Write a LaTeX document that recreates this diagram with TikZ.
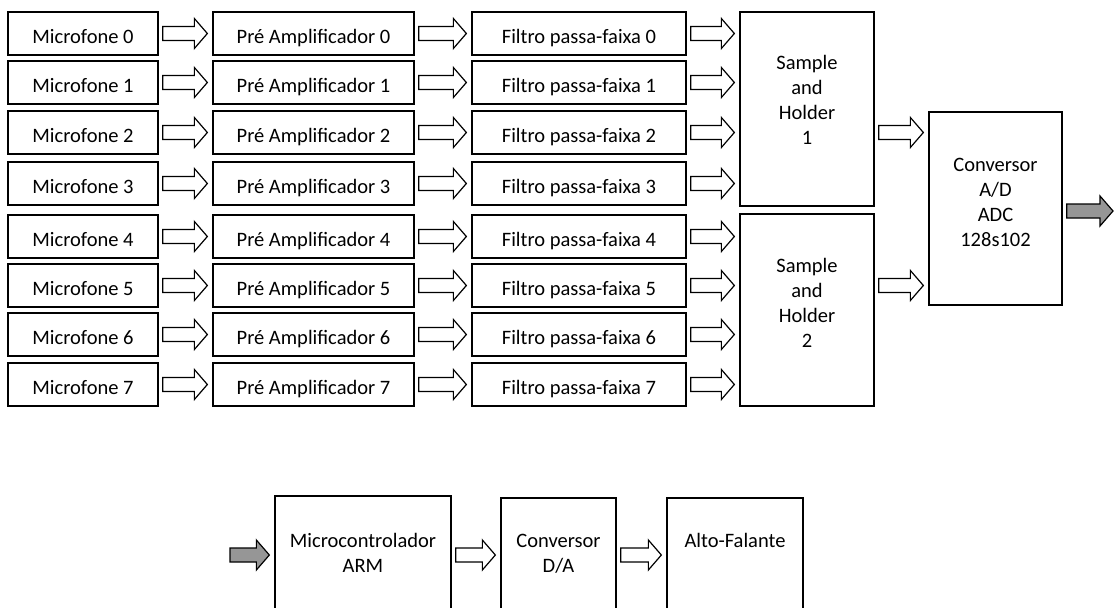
\documentclass[tikz,border=0pt]{standalone}
\usepackage{fontspec}
\setmainfont{Carlito}
\usetikzlibrary{calc}
\definecolor{arrowgray}{RGB}{150,150,150}
\tikzset{
  box/.style={draw, line width=1.3pt, inner sep=0pt, align=center, font=\fontsize{20.5}{25}\selectfont},
  rowbox/.style={box, minimum height=43pt, text height=19.5pt, text depth=0pt},
  blk/.style={draw, line width=1.2pt, line join=miter},
}
\newcommand{\barrow}[4][white]{\draw[blk, fill=#1] let \p1=#2, \p2=#3, \p3=#4 in (\x1+4pt,\y3+7pt) -- (\x2-18pt,\y3+7pt) -- (\x2-18pt,\y3+15pt) -- (\x2-5pt,\y3) -- (\x2-18pt,\y3-15pt) -- (\x2-18pt,\y3-7pt) -- (\x1+4pt,\y3-7pt) -- cycle;}
\begin{document}
\begin{tikzpicture}[x=1pt,y=-1pt]
\useasboundingbox (0,0) rectangle (1115,607);
\clip (0,0) rectangle (1115,607);
\foreach \i/\y in {0/33.5,1/82.5,2/132.5,3/183.5,4/236.5,5/285.5,6/334.5,7/384.5}{
  \node[rowbox, minimum width=150pt] (m\i) at (83,\y) {Microfone \i};
  \node[rowbox, minimum width=201pt] (p\i) at (313.5,\y) {Pré Amplificador \i};
  \node[rowbox, minimum width=214pt] (f\i) at (579,\y) {Filtro passa-faixa \i};
}
\node[box, minimum width=134pt, minimum height=194pt, text depth=18pt] (s1) at (807,109) {Sample\\and\\Holder\\1};
\node[box, minimum width=134pt, minimum height=192pt, text depth=14pt] (s2) at (807,310) {Sample\\and\\Holder\\2};
\node[box, minimum width=133pt, minimum height=193pt, text depth=12pt] (adc) at (995.5,208.5) {Conversor\\A/D\\ADC\\128s102};
\coordinate (out) at (1118,211);
\foreach \i in {0,...,7}{
  \barrow{(m\i.east)}{(p\i.west)}{(m\i.east)}
  \barrow{(p\i.east)}{(f\i.west)}{(p\i.east)}
}
\foreach \i in {0,...,3}{\barrow{(f\i.east)}{(s1.west)}{(f\i.east)}}
\foreach \i in {4,...,7}{\barrow{(f\i.east)}{(s2.west)}{(f\i.east)}}
\barrow{(s1.east)}{(adc.west)}{(f2.east)}
\barrow{(s2.east)}{(adc.west)}{(f5.east)}
\barrow[arrowgray]{(adc.east)}{(out)}{(out)}
% bottom chain
\coordinate (in) at (226,555);
\node[box, minimum width=176pt, minimum height=119pt, text depth=6pt] (mc) at (363,555.5) {Microcontrolador\\ARM};
\node[box, minimum width=115pt, minimum height=117pt, text depth=6pt] (da) at (558.5,556.5) {Conversor\\D/A};
\node[box, minimum width=136pt, minimum height=117pt, text depth=8pt] (alto) at (735,556.5) {Alto-Falante\\\mbox{}};
\barrow[arrowgray]{(in)}{(mc.west)}{(in)}
\barrow{(mc.east)}{(da.west)}{(in)}
\barrow{(da.east)}{(alto.west)}{(in)}
\end{tikzpicture}
\end{document}
